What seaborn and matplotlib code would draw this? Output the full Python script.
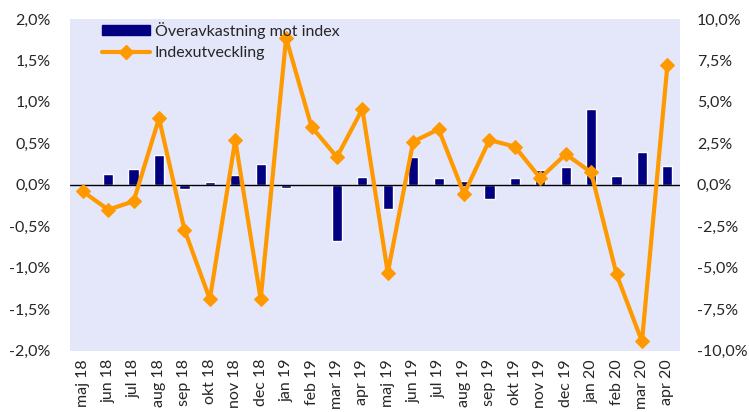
import matplotlib
matplotlib.use("Agg")
import matplotlib.pyplot as plt
from matplotlib.ticker import FuncFormatter, MultipleLocator
from matplotlib.patches import Patch
from matplotlib.lines import Line2D
import pandas as pd
import seaborn as sns

# Months (Swedish labels)
months = ["maj 18", "jun 18", "jul 18", "aug 18", "sep 18", "okt 18", "nov 18", "dec 18",
          "jan 19", "feb 19", "mar 19", "apr 19", "maj 19", "jun 19", "jul 19", "aug 19",
          "sep 19", "okt 19", "nov 19", "dec 19", "jan 20", "feb 20", "mar 20", "apr 20"]

# Excess return vs index (%), left axis
overavkastning = [0.0, 0.13, 0.19, 0.36, -0.045, 0.036, 0.12, 0.25,
                  -0.04, 0.0, -0.675, 0.09, -0.29, 0.34, 0.08, 0.04,
                  -0.17, 0.08, 0.18, 0.21, 0.92, 0.10, 0.40, 0.23]

# Index development (%), right axis
indexutveckling = [-0.4, -1.5, -1.0, 4.0, -2.7, -6.9, 2.7, -6.9,
                   8.85, 3.5, 1.67, 4.57, -5.3, 2.6, 3.35, -0.55,
                   2.7, 2.3, 0.4, 1.85, 0.75, -5.4, -9.45, 7.2]

bar_label = "Överavkastning mot index"
line_label = "Indexutveckling"

df = pd.DataFrame({"month": months, "bar": overavkastning,
                   "idx": indexutveckling, "pos": range(len(months))})

sns.set_style("white")
plt.rcParams["font.family"] = ["Lato", "DejaVu Sans"]

navy = "#000080"
orange = "#FF9900"
fs = 11.5

fig = plt.figure(figsize=(7.49, 4.12), dpi=100)
ax = fig.add_axes([0.0935, 0.149, 0.8145, 0.805])
ax.set_facecolor("#E4E6FA")

sns.barplot(data=df, x="month", y="bar", color=navy, width=0.4,
            saturation=1, ax=ax, zorder=2)
ax.axhline(0, color="black", lw=1, zorder=3)
ax.set_ylim(-2.0, 2.0)
ax.set_xlim(-0.5, len(months) - 0.5)
ax.yaxis.set_major_locator(MultipleLocator(0.5))
ax.yaxis.set_major_formatter(FuncFormatter(lambda v, p: f"{v:.1f}%".replace(".", ",")))
ax.set_xlabel("")
ax.set_ylabel("")
ax.tick_params(axis="x", rotation=90, labelsize=fs, length=0, pad=6)
ax.tick_params(axis="y", labelsize=fs, length=0, pad=14)
for s in ax.spines.values():
    s.set_visible(False)

ax2 = ax.twinx()
sns.lineplot(data=df, x="pos", y="idx", color=orange, lw=3, marker="D",
             markersize=7, markeredgecolor=orange, ax=ax2, zorder=4)
ax2.set_ylim(-10, 10)
ax2.yaxis.set_major_locator(MultipleLocator(2.5))
ax2.yaxis.set_major_formatter(FuncFormatter(lambda v, p: f"{v:.1f}%".replace(".", ",")))
ax2.set_ylabel("")
ax2.tick_params(axis="y", labelsize=fs, length=0, pad=12)
for s in ax2.spines.values():
    s.set_visible(False)

handles = [Patch(facecolor=navy, edgecolor=navy),
           Line2D([], [], color=orange, lw=3, marker="D", markersize=7)]
ax2.legend(handles, [bar_label, line_label], loc="upper left",
           bbox_to_anchor=(0.042, 1.01), borderaxespad=0, frameon=False,
           fontsize=fs, handlelength=3.0, handleheight=0.6,
           labelspacing=0.45, handletextpad=0.3)

fig.savefig("out.png", dpi=100)
